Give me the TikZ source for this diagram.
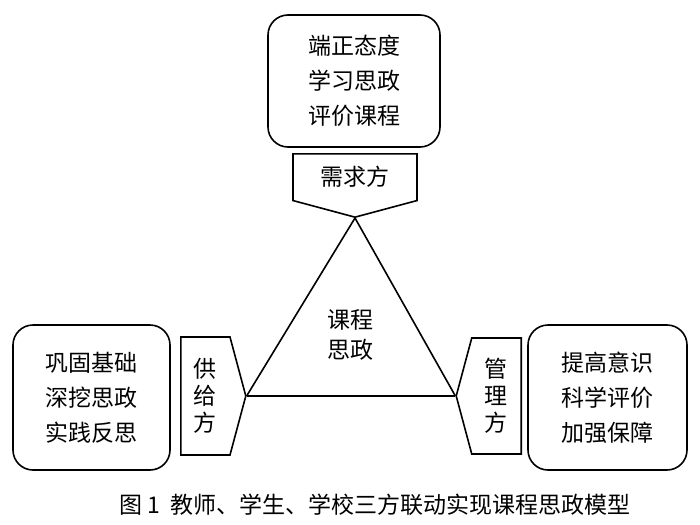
\documentclass[tikz,border=0pt]{standalone}
\usepackage{fontspec}
\newfontfamily\cjk{Noto Sans CJK SC}
\usetikzlibrary{positioning,shapes.symbols}

\begin{document}
\begin{tikzpicture}[
  x=1pt, y=-1pt,
  line width=1.6pt,
  note/.style={rectangle, draw, rounded corners=20pt, align=center,
               font=\cjk\fontsize{23}{35}\selectfont, inner sep=0pt},
  side/.style={signal, draw, signal pointer angle=150, align=center,
               font=\cjk\fontsize{23}{27}\selectfont, inner sep=0pt},
  lbl/.style={font=\cjk\fontsize{23}{30}\selectfont, align=center}
]
\useasboundingbox (0,0) rectangle (700,524);

\node[note, minimum width=172pt, minimum height=132pt] (goal) at (354,81)
  {端正态度\\学习思政\\评价课程};
\node[side, signal to=south, minimum width=124pt, minimum height=56pt,
      anchor=north] (need) at (355,153) {需求方};

\node[note, minimum width=157pt, minimum height=145pt] (base) at (91.5,397.5)
  {巩固基础\\深挖思政\\实践反思};
\node[side, signal to=east, minimum width=65pt, minimum height=118pt,
      anchor=west] (supply) at (180,396) {供\\给\\方};

\node[note, minimum width=159pt, minimum height=145pt] (care) at (607.5,397.5)
  {提高意识\\科学评价\\加强保障};
\node[side, signal to=west, minimum width=65pt, minimum height=116pt,
      anchor=east] (manage) at (522,396) {管\\理\\方};

\draw (need.south) -- (supply.east);
\draw (need.south) -- (manage.west);
\draw[line width=2.6pt] (supply.east) -- (manage.west);

\node[lbl] (core) at (350,335) {课程\\思政};

\node[font=\cjk\fontsize{23}{26}\selectfont] (cap) at (375,505)
  {图 1\ \ 教师、学生、学校三方联动实现课程思政模型};
\end{tikzpicture}
\end{document}
